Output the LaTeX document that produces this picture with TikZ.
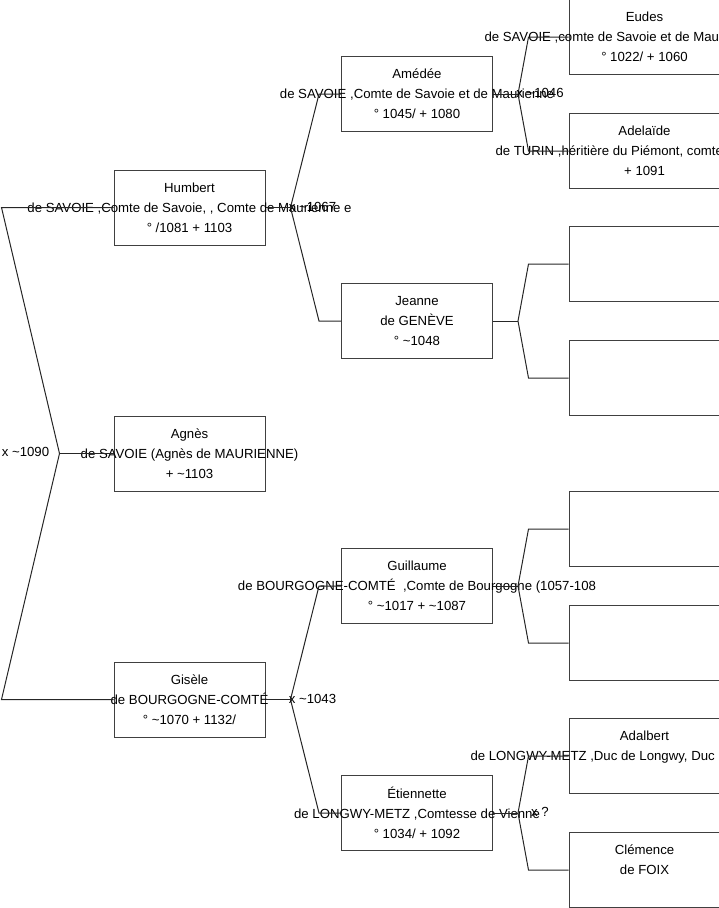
\documentclass[tikz,border=0pt]{standalone}
\usepackage{fontspec}
\setmainfont{Liberation Sans}
\usetikzlibrary{positioning,calc}
\newcommand{\spill}[1]{\makebox[0pt]{#1}}
\newcommand{\spillat}[2]{\makebox[0pt][l]{\hspace*{#1}#2}}

\begin{document}
\begin{tikzpicture}[x=1pt, y=1pt, font=\fontsize{13.2}{20}\selectfont, node distance=170pt and 75.5pt,
  person/.style={draw=black!75, line width=1pt, minimum width=151pt, minimum height=75pt, inner sep=0pt, align=center},
  link/.style={draw=black!85, line width=1pt},
  wed/.style={inner sep=0pt}]
  \useasboundingbox (0,0) rectangle (719,-908);
  \clip (0,0) rectangle (719,-908);

  \node[person] (agnes) at (189.5,-453.5)
    {Agnès\\ \spill{de SAVOIE (Agnès de MAURIENNE)}\\ + \textasciitilde1103};
  \node[person, above=170pt of agnes] (humbert)
    {Humbert\\ \spill{de SAVOIE ,Comte de Savoie, , Comte de Maurienne e}\\ ° /1081 + 1103};
  \node[person, below=170pt of agnes] (gisele)
    {Gisèle\\ \spill{de BOURGOGNE-COMTÉ}\\ ° \textasciitilde1070 + 1132/};

  \node[person, right=75.5pt of humbert, yshift=113.5pt] (amedee)
    {Amédée\\ \spill{de SAVOIE ,Comte de Savoie et de Maurienne}\\ ° 1045/ + 1080};
  \node[person, right=75.5pt of humbert, yshift=-113.5pt] (jeanne)
    {Jeanne\\ de GENÈVE\\ ° \textasciitilde1048};
  \node[person, right=75.5pt of gisele, yshift=113.5pt] (guillaume)
    {Guillaume\\ \spill{de BOURGOGNE-COMTÉ\ \ ,Comte de Bourgogne (1057-108}\\ ° \textasciitilde1017 + \textasciitilde1087};
  \node[person, right=75.5pt of gisele, yshift=-113.5pt] (etiennette)
    {Étiennette\\ \spill{de LONGWY-METZ ,Comtesse de Vienne}\\ ° 1034/ + 1092};

  \node[person, right=75.5pt of amedee, yshift=57pt] (eudes)
    {Eudes\\ \spillat{-160pt}{de SAVOIE ,comte de Savoie et de Mau}\\ ° 1022/ + 1060};
  \node[person, right=75.5pt of amedee, yshift=-57pt] (adelaide)
    {Adelaïde\\ \spillat{-149pt}{de TURIN ,héritière du Piémont, comte}\\ + 1091};
  \node[person, right=75.5pt of jeanne, yshift=57pt] (jeannepa) {};
  \node[person, right=75.5pt of jeanne, yshift=-57pt] (jeannema) {};
  \node[person, right=75.5pt of guillaume, yshift=57pt] (guillaumepa) {};
  \node[person, right=75.5pt of guillaume, yshift=-57pt] (guillaumema) {};
  \node[person, right=75.5pt of etiennette, yshift=57pt] (adalbert)
    {Adalbert\\ \spillat{-174pt}{de LONGWY-METZ ,Duc de Longwy, Duc}\\ \mbox{}};
  \node[person, right=75.5pt of etiennette, yshift=-57pt] (clemence)
    {Clémence\\ de FOIX\\ \mbox{}};

  \coordinate (j-agnes) at ($(agnes.west)+(-54,0)$);
  \draw[link] (agnes.west) -- (j-agnes);
  \draw[link] (humbert.west) -- ++(-112,0) -- (j-agnes) -- ($(gisele.west)+(-112,0)$) -- (gisele.west);

  \foreach \kid/\dad/\mom/\bend in {humbert/amedee/jeanne/22, amedee/eudes/adelaide/40,
      jeanne/jeannepa/jeannema/40, gisele/guillaume/etiennette/22,
      guillaume/guillaumepa/guillaumema/40, etiennette/adalbert/clemence/40}{
    \coordinate (j-\kid) at ($(\kid.east)+(25,0)$);
    \draw[link] (\kid.east) -- (j-\kid);
    \draw[link] (\dad.west) -- ++(-\bend,0) -- (j-\kid) -- ($(\mom.west)+(-\bend,0)$) -- (\mom.west);
  }

  \node[wed] (x-agnes) at ($(j-agnes)+(-34,2)$) {x \textasciitilde1090};
  \node[wed] (x-humbert) at ($(j-humbert)+(22,1)$) {x \textasciitilde1067};
  \node[wed] (x-amedee) at ($(j-amedee)+(22,1)$) {x \textasciitilde1046};
  \node[wed] (x-gisele) at ($(j-gisele)+(22,1)$) {x \textasciitilde1043};
  \node[wed] (x-etiennette) at ($(j-etiennette)+(22,1)$) {x ?};
\end{tikzpicture}
\end{document}
